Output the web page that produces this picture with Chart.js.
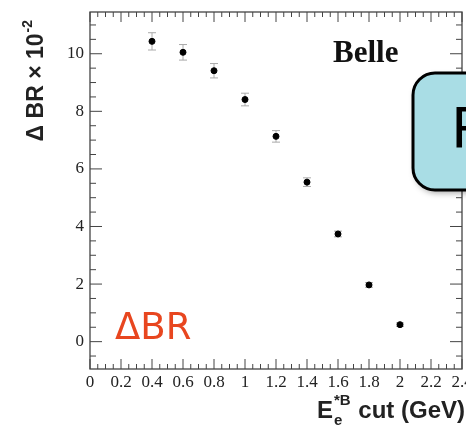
<!DOCTYPE html>
<html>
<head>
<meta charset="utf-8">
<script src="https://cdn.jsdelivr.net/npm/chart.js@4"></script>
<style>
  html, body { margin: 0; padding: 0; background: #fff; }
  #wrap { width: 466px; height: 430px; }
</style>
</head>
<body>
<div id="wrap"><canvas id="brChart" width="466" height="430"></canvas></div>
<script>
// E_e*B cut (GeV) and Delta BR (x 10^-2)
const cutValues = [0.4, 0.6, 0.8, 1.0, 1.2, 1.4, 1.6, 1.8, 2.0];
const deltaBR   = [10.43, 10.05, 9.41, 8.41, 7.13, 5.54, 3.74, 1.97, 0.59];
const errBR     = [0.30, 0.27, 0.25, 0.22, 0.20, 0.15, 0.10, 0.08, 0.06];
const xTicks = [0, 0.2, 0.4, 0.6, 0.8, 1, 1.2, 1.4, 1.6, 1.8, 2, 2.2, 2.4];
const yTicks = [0, 2, 4, 6, 8, 10];

const points = cutValues.map((x, i) => ({ x: x, y: deltaBR[i] }));

// error bars, ticks, frame and the annotation texts
const decorPlugin = {
    id: 'decor',
    beforeDatasetsDraw(chart) {
        const ctx = chart.ctx;
        const xs = chart.scales.x, ys = chart.scales.y;
        ctx.save();
        ctx.strokeStyle = '#aaa';
        ctx.lineWidth = 1;
        cutValues.forEach((x, i) => {
            const px = xs.getPixelForValue(x);
            const top = ys.getPixelForValue(deltaBR[i] + errBR[i]);
            const bot = ys.getPixelForValue(deltaBR[i] - errBR[i]);
            ctx.beginPath();
            ctx.moveTo(px, top); ctx.lineTo(px, bot);
            ctx.moveTo(px - 4, top); ctx.lineTo(px + 4, top);
            ctx.moveTo(px - 4, bot); ctx.lineTo(px + 4, bot);
            ctx.stroke();
        });
        ctx.restore();
    },
    afterDraw(chart) {
        const ctx = chart.ctx;
        const a = chart.chartArea;
        const xs = chart.scales.x, ys = chart.scales.y;
        ctx.save();
        ctx.strokeStyle = '#444';
        ctx.lineWidth = 1.3;
        ctx.strokeRect(a.left, a.top, a.right - a.left, a.bottom - a.top);

        ctx.lineWidth = 1;
        ctx.beginPath();
        // x ticks bottom and top
        for (let v = 0; v <= 2.4001; v += 0.05) {
            const px = xs.getPixelForValue(v);
            const major = Math.abs(v / 0.2 - Math.round(v / 0.2)) < 1e-6;
            const len = major ? 10 : 5;
            ctx.moveTo(px, a.bottom); ctx.lineTo(px, a.bottom - len);
            ctx.moveTo(px, a.top); ctx.lineTo(px, a.top + len);
        }
        // y ticks left and right
        for (let v = -0.5; v <= 11.4; v += 0.5) {
            const py = ys.getPixelForValue(v);
            const major = Math.abs(v / 2 - Math.round(v / 2)) < 1e-6;
            const len = major ? 12 : 6;
            ctx.moveTo(a.left, py); ctx.lineTo(a.left + len, py);
            ctx.moveTo(a.right, py); ctx.lineTo(a.right - len, py);
        }
        ctx.stroke();

        // y axis title, rotated, aligned to the top
        ctx.save();
        ctx.translate(43, 20);
        ctx.rotate(-Math.PI / 2);
        ctx.fillStyle = '#222';
        ctx.textAlign = 'right';
        ctx.textBaseline = 'alphabetic';
        ctx.font = 'bold 14px "Liberation Sans"';
        const supW = ctx.measureText('-2').width;
        ctx.fillText('-2', 0, -11);
        ctx.font = 'bold 23px "Liberation Sans"';
        ctx.fillText('Δ BR × 10', -supW - 1, 0);
        ctx.restore();

        // Belle
        ctx.fillStyle = '#111';
        ctx.font = 'bold 31px "Liberation Serif"';
        ctx.textAlign = 'left';
        ctx.textBaseline = 'alphabetic';
        ctx.fillText('Belle', 333, 62);

        // red label
        ctx.fillStyle = '#e8461f';
        ctx.font = '37px "DejaVu Sans"';
        ctx.fillText('ΔBR', 115, 339);

        // x axis title with sub/superscript, right aligned to the frame
        ctx.fillStyle = '#222';
        ctx.font = 'bold 24px "Liberation Sans"';
        const ew = ctx.measureText('E').width;
        const restW = ctx.measureText(' cut (GeV)').width;
        ctx.font = 'bold 15px "Liberation Sans"';
        const sw = ctx.measureText('*B').width;
        const tx = 465 - restW - sw - ew - 2;
        ctx.fillText('*B', tx + ew + 1, 405);
        ctx.fillText('e', tx + ew + 1, 425);
        ctx.font = 'bold 24px "Liberation Sans"';
        ctx.fillText('E', tx, 418);
        ctx.fillText(' cut (GeV)', tx + ew + sw + 2, 418);

        // callout box on the right
        ctx.shadowColor = 'rgba(0,0,0,0.35)';
        ctx.shadowBlur = 6;
        ctx.shadowOffsetX = 2;
        ctx.shadowOffsetY = 3;
        ctx.fillStyle = '#a9dde5';
        ctx.strokeStyle = '#000';
        ctx.lineWidth = 3;
        ctx.beginPath();
        ctx.roundRect(413, 73, 90, 117, 22);
        ctx.fill();
        ctx.shadowColor = 'transparent';
        ctx.stroke();
        ctx.fillStyle = '#000';
        ctx.font = '56px "DejaVu Sans"';
        ctx.textBaseline = 'middle';
        ctx.fillText('R', 451, 132);
        ctx.restore();
    }
};

new Chart(document.getElementById('brChart'), {
    type: 'scatter',
    data: {
        datasets: [{
            data: points,
            backgroundColor: '#000',
            borderColor: '#000',
            pointRadius: 3,
            pointHoverRadius: 3
        }]
    },
    plugins: [decorPlugin],
    options: {
        responsive: false,
        animation: false,
        layout: { padding: { top: 12, right: 4, left: 0, bottom: 0 } },
        plugins: { legend: { display: false }, tooltip: { enabled: false } },
        scales: {
            x: {
                type: 'linear',
                min: 0,
                max: 2.4,
                afterBuildTicks: s => { s.ticks = xTicks.map(v => ({ value: v })); },
                afterFit: s => { s.height = 61; s.paddingLeft = 0; s.paddingRight = 0; },
                grid: { display: false, drawTicks: false },
                border: { display: false },
                ticks: {
                    color: '#222',
                    padding: 3,
                    maxRotation: 0,
                    autoSkip: false,
                    font: { family: 'Liberation Serif', size: 17 },
                    callback: v => String(v)
                }
            },
            y: {
                type: 'linear',
                min: -0.95,
                max: 11.45,
                afterBuildTicks: s => { s.ticks = yTicks.map(v => ({ value: v })); },
                afterFit: s => { s.width = 90; s.paddingTop = 0; s.paddingBottom = 0; },
                grid: { display: false, drawTicks: false },
                border: { display: false },
                ticks: {
                    color: '#222',
                    padding: 6,
                    font: { family: 'Liberation Serif', size: 17 }
                }
            }
        }
    }
});
</script>
</body>
</html>
